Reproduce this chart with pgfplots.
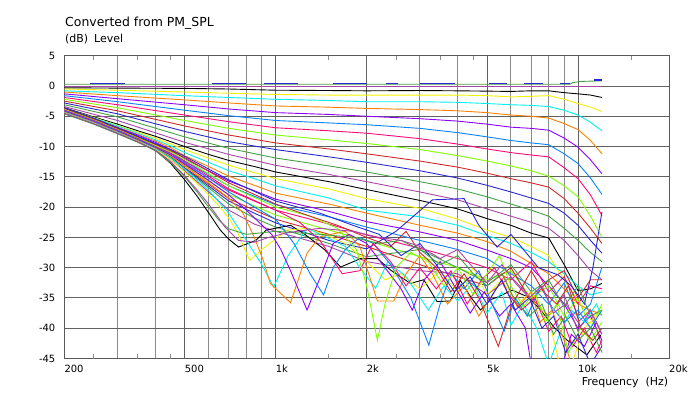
\documentclass[border=0pt]{standalone}
\usepackage{pgfplots}
\usepackage{pgfplotstable}
\pgfplotsset{compat=1.18}
\usepackage{fontspec}
\setmainfont{DejaVu Sans}
\definecolor{cK}{HTML}{000000}
\definecolor{cY}{HTML}{F2F200}
\definecolor{cC}{HTML}{00F0F0}
\definecolor{cO}{HTML}{FF8000}
\definecolor{cV}{HTML}{8C00FF}
\definecolor{cD}{HTML}{0A82FF}
\definecolor{cP}{HTML}{FF0A78}
\definecolor{cG}{HTML}{80FF00}
\definecolor{cR}{HTML}{D22828}
\definecolor{cB}{HTML}{2828D2}
\definecolor{cN}{HTML}{46A046}
\definecolor{cM}{HTML}{A846A8}

\pgfplotstableread{
f      k1    y1    c1    o1    v1    d1    p1    g1    r1    b1    n1    m1
200   -0.3  -0.5  -0.8  -1.0  -1.3  -1.6  -1.9  -2.2  -2.5  -2.8  -3.1  -3.4
300   -0.35 -0.7  -1.1  -1.6  -2.1  -2.6  -3.1  -3.6  -4.1  -4.6  -5.1  -5.7
500   -0.4  -1.0  -1.6  -2.3  -3.1  -4.0  -4.8  -5.7  -6.6  -7.5  -8.4  -9.3
700   -0.5  -1.2  -1.9  -2.8  -3.8  -4.9  -5.9  -7.0  -8.1  -9.2  -10.3 -11.3
1000  -0.7  -1.4  -2.2  -3.3  -4.4  -5.7  -6.9  -8.1  -9.4  -10.5 -11.9 -13.1
1500  -0.75 -1.5  -2.4  -3.5  -4.7  -6.1  -7.4  -8.9  -10.4 -11.7 -13.2 -14.6
2000  -0.8  -1.5  -2.6  -3.7  -5.0  -6.4  -7.8  -9.5  -11.2 -12.6 -14.2 -15.8
3000  -0.75 -1.5  -2.6  -3.9  -5.4  -7.0  -8.7  -10.5 -12.4 -14.0 -15.8 -17.5
4000  -0.8  -1.5  -2.7  -4.1  -5.8  -7.7  -9.6  -11.5 -13.4 -15.2 -17.0 -18.8
5000  -0.85 -1.6  -2.9  -4.4  -6.3  -8.4  -10.4 -12.4 -14.4 -16.4 -18.3 -20.3
6000  -0.9  -1.8  -3.1  -4.8  -6.8  -9.0  -11.0 -13.2 -15.3 -17.5 -19.5 -21.5
7000  -0.8  -1.7  -3.2  -5.0  -7.0  -9.4  -11.4 -14.0 -16.0 -18.5 -20.5 -22.5
8000  -0.8  -1.6  -3.4  -5.3  -7.3  -9.7  -11.7 -14.9 -16.7 -19.4 -21.5 -23.5
9000  -1.1  -2.2  -4.0  -6.2  -8.6  -11.2 -13.5 -16.5 -18.6 -21.0 -23.5 -25.5
10000 -1.3  -2.9  -4.8  -7.2  -10.1 -12.8 -15.3 -18.3 -21.0 -23.0 -25.5 -28.0
11000 -1.5  -3.5  -6.0  -9.0  -12.2 -15.2 -18.0 -21.5 -23.5 -25.5 -27.5 -30.5
12000 -1.9  -4.2  -7.4  -11.2 -14.5 -17.9 -21.4 -25.0 -26.0 -27.6 -29.0 -32.0
}\cyclea

\pgfplotstableread{
f      k2    y2    c2    o2    v2    d2    p2    g2    r2    n2    m2
200   -3.6  -3.7  -3.8  -3.9  -4.0  -4.0  -4.1  -4.1  -4.2  -4.3  -4.4
250   -5.1  -5.2  -5.3  -5.4  -5.5  -5.6  -5.7  -5.8  -5.9  -6.0  -6.1
300   -6.3  -6.5  -6.6  -6.8  -6.9  -7.1  -7.2  -7.3  -7.5  -7.6  -7.7
350   -7.4  -7.6  -7.8  -8.0  -8.1  -8.3  -8.4  -8.6  -8.8  -8.9  -9.1
400   -8.3  -8.6  -8.9  -9.1  -9.3  -9.5  -9.7  -9.9  -10.1 -10.3 -10.5
450   -9.2  -9.6  -9.9  -10.2 -10.5 -10.8 -11.1 -11.4 -11.7 -11.9 -12.2
500   -10.0 -10.5 -11.0 -11.5 -12.0 -12.4 -12.8 -13.1 -13.5 -13.7 -14.0
600   -11.3 -11.9 -12.6 -13.3 -14.0 -14.6 -15.2 -15.7 -16.2 -16.8 -17.5
700   -12.3 -13.1 -14.0 -14.9 -15.7 -16.5 -17.2 -17.9 -18.6 -19.5 -20.5
850   -13.3 -14.3 -15.3 -16.4 -17.3 -18.2 -19.0 -19.8 -20.5 -21.8 -22.8
1000  -14.2 -15.3 -16.5 -17.7 -18.7 -19.6 -20.5 -21.3 -22.0 -23.3 -24.0
1500  -15.8 -17.0 -18.5 -19.5 -20.7 -21.6 -22.8 -23.8 -24.5 -26.0 -26.5
2000  -17.1 -18.6 -20.5 -21.0 -22.4 -23.3 -24.6 -25.5 -26.5 -28.2 -29.0
3000  -18.9 -20.2 -21.6 -23.0 -24.1 -25.5 -26.8 -28.2 -29.5 -27.0 -30.5
4000  -20.3 -22.0 -23.0 -24.3 -25.5 -27.0 -28.5 -30.0 -31.5 -30.0 -31.0
5000  -21.9 -23.8 -24.7 -25.7 -27.1 -28.5 -30.0 -32.0 -33.0 -32.5 -34.5
6000  -23.0 -25.0 -26.0 -27.3 -28.5 -31.0 -32.0 -30.5 -30.0 -29.5 -31.5
7000  -24.3 -26.5 -27.5 -29.3 -30.0 -33.0 -29.0 -35.0 -35.5 -34.0 -35.0
8000  -25.1 -28.0 -29.0 -31.0 -33.0 -36.0 -34.0 -33.0 -32.0 -32.0 -38.0
9000  -29.5 -32.0 -31.0 -33.5 -36.0 -32.5 -31.5 -38.0 -30.5 -36.5 -34.5
10000 -33.8 -35.5 -33.0 -36.0 -40.0 -38.0 -36.0 -35.0 -35.0 -33.0 -40.5
11000 -33.5 -38.5 -34.5 -37.0 -38.0 -36.0 -33.0 -40.0 -32.0 -38.0 -37.0
12000 -32.6 -36.5 -34.0 -37.8 -42.0 -29.9 -33.5 -36.0 -32.0 -37.0 -43.0
}\cycleb

\begin{document}
\begin{tikzpicture}
\path[use as bounding box] (0,0) rectangle (692bp,393bp);
\begin{axis}[
  at={(64.3bp,34.5bp)}, anchor=south west,
  scale only axis, width=604.7bp, height=302.8bp,
  xmode=log, xmin=200, xmax=20000, ymin=-45, ymax=5,
  log basis x=10,
  xtick={200,500,1000,2000,5000,10000,20000},
  xticklabels={200,500,1k,2k,5k,10k,20k},
  minor xtick={300,400,600,700,800,900,3000,4000,6000,7000,8000,9000},
  ytick={-45,-40,-35,-30,-25,-20,-15,-10,-5,0,5},
  yticklabels={-45,-40,-35,-30,-25,-20,-15,-10,-5,0,5},
  xmajorgrids, xminorgrids, ymajorgrids,
  major grid style={draw=black!62, line width=0.9bp},
  minor grid style={draw=black!45, line width=0.9bp},
  major tick length=0pt, minor tick length=0pt,
  xtick pos=both, ytick pos=left,
  axis line style={draw=black!65, line width=0.9bp},
  extra x ticks={250,350,450,1500,2500,3500,4500,15000},
  extra x tick style={grid=none, major tick length=4bp, xticklabel={},
     every tick/.style={draw=black!45, line width=0.9bp}},
  xticklabel style={font=\fontsize{10}{12}\selectfont, anchor=north west,
     inner sep=0pt, yshift=-6.5bp, text height=7.3bp, text depth=0pt},
  yticklabel style={font=\fontsize{10}{12}\selectfont, anchor=east,
     inner sep=0pt, xshift=-8.8bp},
  every axis plot/.append style={line width=0.9bp, mark=none},
  unbounded coords=jump,
  clip=true,
]
% top lines
\addplot[cM] coordinates {(200,0)(12000,0)};
\addplot[cN] coordinates {(200,0.28)(9400,0.28)(9600,0.55)(10200,0.75)(12000,0.85)};
\addplot[cB, line width=1.3bp] coordinates {(243,0.4)(318,0.4)(400,nan)(617,0.4)(800,0.4)(850,nan)(917,0.4)(1189,0.4)(1300,nan)(1553,0.4)(2012,0.4)(2100,nan)(2325,0.4)(2548,0.4)(2700,nan)(3013,0.4)(3932,0.4)(4200,nan)(5062,0.4)(5841,0.4)(6000,nan)(6640,0.4)(7649,0.4)(8000,nan)(8717,0.4)(9444,0.4)(10000,nan)(11330,0.98)(12000,0.98)};
% cycle 1
\addplot[cK] table[x=f,y=k1] {\cyclea};
\addplot[cY] table[x=f,y=y1] {\cyclea};
\addplot[cC] table[x=f,y=c1] {\cyclea};
\addplot[cO] table[x=f,y=o1] {\cyclea};
\addplot[cV] table[x=f,y=v1] {\cyclea};
\addplot[cD] table[x=f,y=d1] {\cyclea};
\addplot[cP] table[x=f,y=p1] {\cyclea};
\addplot[cG] table[x=f,y=g1] {\cyclea};
\addplot[cR] table[x=f,y=r1] {\cyclea};
\addplot[cB] table[x=f,y=b1] {\cyclea};
\addplot[cN] table[x=f,y=n1] {\cyclea};
\addplot[cM] table[x=f,y=m1] {\cyclea};
% cycle 2
\addplot[cK] table[x=f,y=k2] {\cycleb};
\addplot[cY] table[x=f,y=y2] {\cycleb};
\addplot[cC] table[x=f,y=c2] {\cycleb};
\addplot[cO] table[x=f,y=o2] {\cycleb};
\addplot[cV] table[x=f,y=v2] {\cycleb};
\addplot[cD] table[x=f,y=d2] {\cycleb};
\addplot[cP] table[x=f,y=p2] {\cycleb};
\addplot[cG] table[x=f,y=g2] {\cycleb};
\addplot[cR] table[x=f,y=r2] {\cycleb};
\addplot[cB] coordinates {(200,-4.2)(250,-5.9)(300,-7.5)(350,-8.9)(400,-10.2)(450,-11.8)(500,-13.6)(600,-16.5)(700,-19.0)(850,-21.0)(1000,-22.6)(1500,-25.5)(2000,-26.9)(2500,-24)(3300,-18.8)(4200,-18.6)(4700,-23)(5400,-26.6)(6000,-24.5)(7400,-30)(8600,-31.2)(9500,-33)(10500,-36)(11200,-30)(12000,-20.8)};
\addplot[cN] table[x=f,y=n2] {\cycleb};
\addplot[cM] table[x=f,y=m2] {\cycleb};
% cycle 3
\addplot[cK] coordinates {(200,-4.5)(250,-6.2)(300,-7.8)(350,-9.2)(400,-10.6)(450,-12.8)(500,-15.5)(550,-18.2)(613,-21.6)(656,-23.8)(700,-25.3)(754,-26.6)(860,-25.5)(930,-23.8)(1120,-23.0)(1250,-24.5)(1450,-27.0)(1640,-29.9)(1910,-28.5)(2170,-28.5)(2400,-30.4)(2790,-32.6)(3090,-32.0)(3420,-35.6)(3780,-35.5)(4080,-32.1)(4410,-34.8)(4760,-37.0)(5130,-35.3)(5460,-34.8)(6060,-33.7)(6800,-34.8)(7530,-37.0)(8320,-39.8)(9220,-42.0)(10700,-44.4)(11900,-41.1)};
\addplot[cY] coordinates {(200,-4.4)(250,-6.1)(300,-7.7)(350,-9.1)(400,-10.4)(450,-12.2)(500,-14.2)(575,-17)(650,-19.8)(700,-21.8)(750,-24.3)(820,-28.8)(900,-27)(1090,-23.8)(1270,-23.5)(1450,-24.5)(1700,-26)(2000,-29)(2300,-32)(2600,-31)(3000,-33.5)(3500,-30.5)(4000,-34)(4500,-30)(5000,-34.5)(5600,-32)(6300,-36)(7000,-34)(8000,-38.5)(8700,-46)(9500,-46)(10500,-40)(11500,-38)(12000,-37)};
\addplot[cC] coordinates {(200,-4.3)(250,-6.0)(300,-7.6)(350,-9.0)(400,-10.3)(450,-11.9)(500,-13.7)(600,-17.2)(700,-21)(800,-25.5)(900,-29.5)(985,-33.2)(1100,-28)(1270,-23.5)(1450,-24.8)(1700,-26.5)(1900,-30)(2140,-33.4)(2350,-29)(2700,-31.5)(3200,-37.0)(3600,-33)(4000,-35.5)(4500,-32.5)(5000,-37.5)(5600,-34)(6000,-39.5)(6600,-36)(7300,-40)(8000,-46)(8700,-41)(9500,-37)(10500,-39)(11500,-36)(12000,-38)};
\addplot[cO] coordinates {(200,-4.2)(250,-5.9)(300,-7.5)(350,-8.9)(400,-10.2)(450,-11.6)(500,-13.2)(600,-16)(700,-18.5)(780,-21)(850,-25)(910,-28.8)(960,-32.6)(1120,-35.8)(1270,-27.6)(1400,-24.9)(1700,-24)(1900,-26.5)(2170,-35.5)(2460,-35.5)(2700,-31)(3000,-28)(3300,-31)(3700,-36)(4200,-33)(4700,-38)(5200,-34.5)(5700,-31.5)(6300,-36.5)(7000,-34)(7500,-39)(8200,-37)(9000,-42)(9500,-46)(12000,-46)};
\addplot[cV] coordinates {(200,-4.1)(250,-5.8)(300,-7.4)(350,-8.8)(400,-10.1)(450,-11.4)(500,-12.9)(600,-15.6)(700,-18)(800,-20.5)(970,-24.5)(1040,-27)(1120,-30.5)(1270,-37)(1420,-31)(1550,-26)(1750,-24.5)(2000,-26)(2300,-30)(2600,-33.5)(2830,-37)(3100,-32)(3500,-29)(3900,-33)(4400,-37.5)(4900,-34)(5500,-38)(6000,-36)(6700,-40)(7000,-46)(8900,-46)(9500,-41)(10500,-43)(11500,-39)(12000,-41)};
\addplot[cD] coordinates {(200,-4.0)(250,-5.7)(300,-7.3)(350,-8.7)(400,-10.0)(450,-11.2)(500,-12.6)(600,-15.2)(700,-17.5)(850,-20)(1000,-22)(1150,-26)(1300,-31)(1440,-34.5)(1550,-30)(1700,-27)(1900,-25)(2100,-26)(2400,-29.5)(2800,-35)(3210,-42.8)(3500,-36)(3800,-31)(4200,-33.5)(4700,-30.5)(5200,-36)(5700,-40.5)(6200,-35)(6800,-38)(7500,-33)(8200,-36.5)(9000,-39)(10000,-37)(11000,-40)(12000,-37)};
\addplot[cP] coordinates {(200,-3.9)(250,-5.6)(300,-7.2)(350,-8.6)(400,-9.9)(450,-11.1)(500,-12.4)(700,-17)(1000,-20.5)(1200,-22.5)(1400,-25.5)(1660,-31)(1900,-30.5)(2100,-26)(2400,-29)(2700,-33)(3000,-30)(3400,-33.5)(3800,-30.5)(4300,-36)(4800,-32)(5300,-30)(5900,-34.5)(6500,-37)(7200,-35)(8000,-40.5)(8800,-38)(9600,-43)(10500,-40)(11500,-44)(12000,-42)};
\addplot[cG] coordinates {(200,-3.8)(250,-5.5)(300,-7.1)(350,-8.5)(400,-9.8)(450,-10.9)(500,-12.1)(700,-16.5)(1000,-20)(1300,-21.5)(1600,-23.5)(1850,-27)(2000,-33)(2170,-42)(2300,-36)(2500,-30)(2800,-27.5)(3200,-29)(3600,-33)(4000,-30)(4500,-34.5)(5000,-31)(5500,-28)(6000,-33)(6600,-36.5)(7200,-34)(7800,-39)(8500,-36)(9300,-44)(10200,-40)(11000,-42)(12000,-39)};
\addplot[cR] coordinates {(200,-3.7)(250,-5.4)(300,-7.0)(350,-8.4)(400,-9.6)(450,-10.7)(500,-11.8)(700,-16)(1000,-19.5)(1300,-21.5)(1600,-23)(2000,-25)(2400,-26.5)(2700,-24)(3000,-27.5)(3400,-30)(3800,-34)(4200,-31)(4700,-35)(5450,-43)(6000,-36.5)(7000,-30.5)(7700,-34)(8500,-36)(9300,-33)(10200,-40)(11200,-42)(12000,-40)};
\addplot[cB] coordinates {(200,-3.6)(250,-5.3)(300,-6.9)(350,-8.3)(400,-9.5)(450,-10.5)(500,-11.6)(700,-15.5)(1000,-19)(1400,-21)(1800,-23)(2200,-24.5)(2600,-28)(3000,-26)(3400,-29.5)(3900,-34)(4400,-31.5)(5000,-36)(5600,-32)(6200,-37)(6900,-35)(7600,-40)(8300,-38)(9100,-44)(10000,-41)(11000,-46)(12000,-43)};
\addplot[cN] coordinates {(200,-4.6)(250,-6.3)(300,-7.9)(350,-9.3)(400,-10.7)(450,-12.7)(500,-15.0)(550,-17.5)(600,-20.0)(650,-22.2)(700,-23.6)(800,-24.5)(1000,-24)(1400,-24.5)(1800,-25)(2200,-26)(2600,-25.5)(3000,-27)(3500,-29.5)(4000,-28)(4500,-31)(5000,-33)(5600,-31)(6200,-35.5)(6900,-38)(7600,-36)(8300,-41)(9100,-38)(10000,-42)(11000,-40)(12000,-44)};
\addplot[cM] coordinates {(200,-4.5)(250,-6.2)(300,-7.8)(350,-9.2)(400,-10.6)(450,-12.5)(500,-14.8)(550,-17.2)(600,-19.5)(680,-23.3)(754,-25.5)(850,-25.8)(950,-25.0)(1100,-24.2)(1400,-23.5)(1800,-24)(2200,-25)(2600,-25.5)(3000,-26.5)(3500,-28.5)(4000,-27)(4500,-30)(5000,-32.5)(5600,-29.5)(6200,-32.5)(6900,-35)(7600,-33)(8300,-37.5)(9100,-36)(10000,-39)(11000,-37)(12000,-41)};
\end{axis}
\node[anchor=base west, inner sep=0pt, font=\fontsize{12.5}{14}\selectfont] at (65bp,366.7bp) {Converted from PM\_SPL};
\node[anchor=base west, inner sep=0pt, font=\fontsize{11}{13}\selectfont] at (65bp,350bp) {(dB)\hspace{6bp}Level};
\node[anchor=base east, inner sep=0pt, font=\fontsize{11}{13}\selectfont] at (668.3bp,8bp) {Frequency\hspace{7bp}(Hz)};
\end{tikzpicture}
\end{document}
